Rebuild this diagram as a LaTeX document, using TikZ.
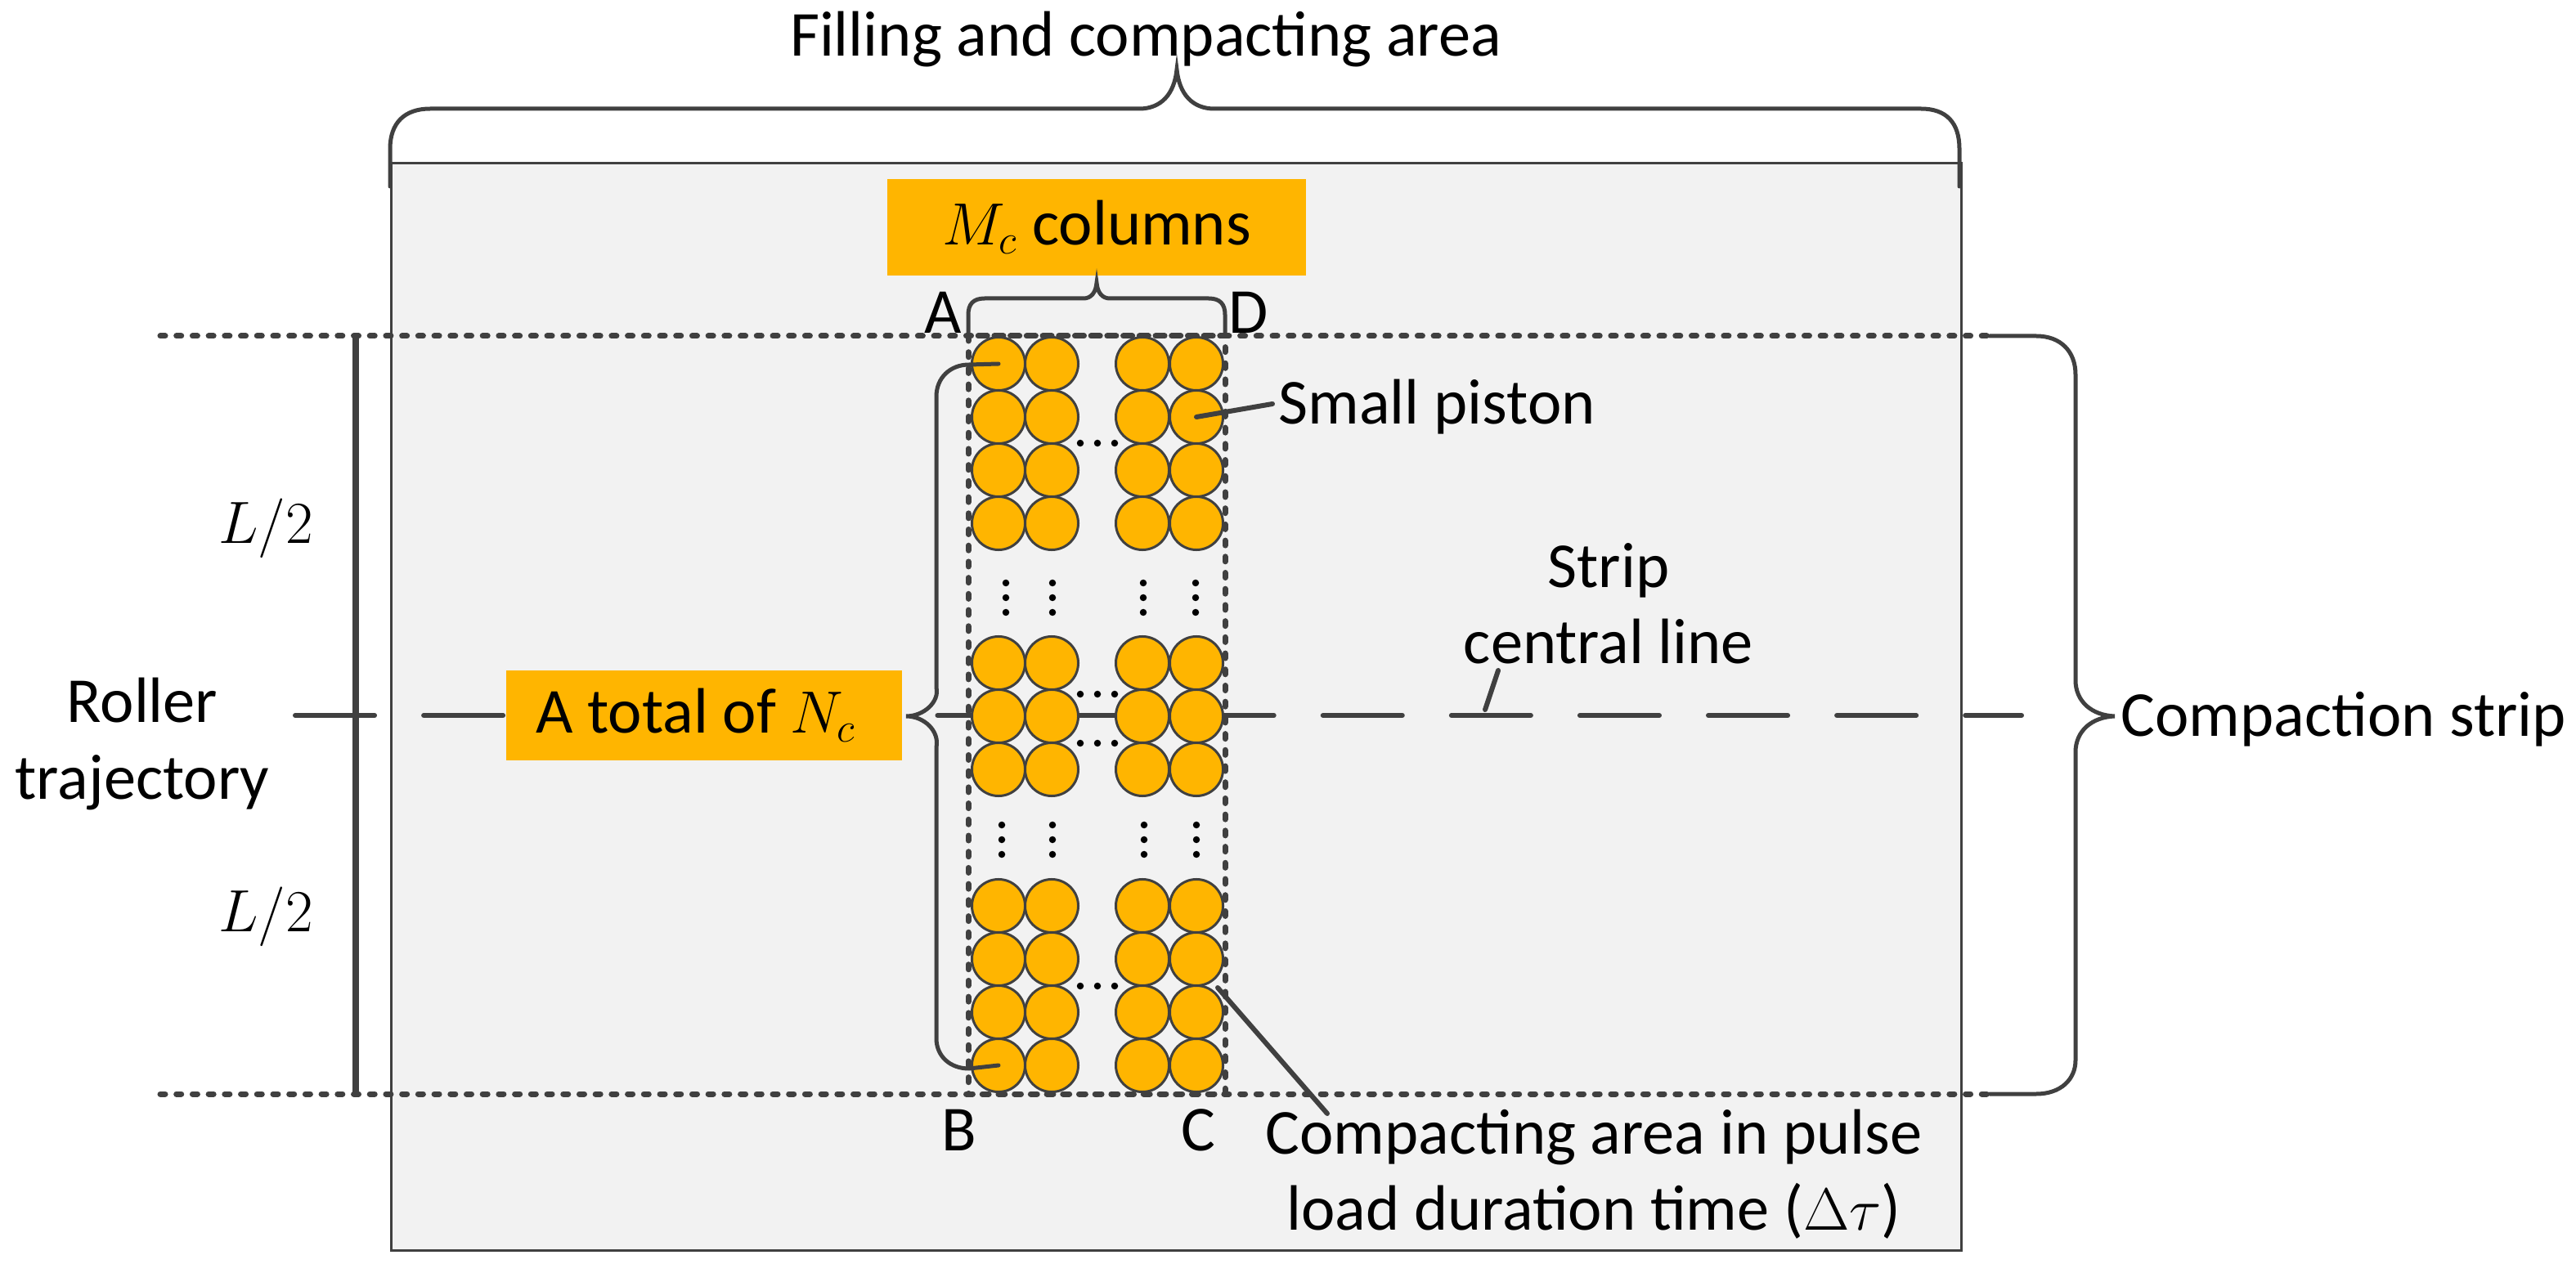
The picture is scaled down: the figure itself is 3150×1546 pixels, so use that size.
\documentclass[tikz,border=0pt]{standalone}
\usepackage{amsmath}
\usepackage{fontspec}
\setmainfont{Carlito}
\usepackage{tikz}
\usetikzlibrary{
		calc,
		positioning
	}
\definecolor{pistonfill}{HTML}{FFB500}
\definecolor{linegray}{HTML}{404040}
\definecolor{panelgray}{HTML}{F2F2F2}
\tikzset{
		>=stealth,
		txt/.style={inner sep=1mm, align=center, font=\fontsize{22.3}{26.5}\selectfont},
		tagbox/.style={txt, fill=pistonfill, minimum height=1.1cm},
		piston/.style={circle, draw=linegray, fill=pistonfill, line width=0.3mm, minimum size=0.65cm, inner sep=0pt},
		solidline/.style={draw=linegray, line width=0.6mm, line cap=round},
		braceline/.style={draw=linegray, line width=0.5mm, line cap=round},
		dotline/.style={draw=linegray, line width=0.7mm, line cap=round, dash pattern=on 0.06cm off 0.137cm},
		longdash/.style={draw=linegray, line width=0.6mm, line cap=round, dash pattern=on 0.97cm off 0.60cm},
		ellipsisdot/.style={circle, fill=black, minimum size=0.085cm, inner sep=0pt}
	}

\begin{document}
\begin{tikzpicture}[x=0.01cm, y=-0.01cm]
    \useasboundingbox (0,0) rectangle (3150,1546);

    % the fill area
    \filldraw[fill=panelgray, draw=linegray, line width=0.3mm] (478,200) rectangle (2398,1529);

    % strip limits and central line
    \coordinate (topl) at (196,411);
    \coordinate (topr) at (2433,411);
    \coordinate (botl) at (196,1338);
    \coordinate (botr) at (2433,1338);
    \coordinate (midl) at (361,875);
    \coordinate (midr) at (2472,875);
    \draw[dotline] (topl) -- (topr);
    \draw[dotline] (botl) -- (botr);
    \draw[longdash] (midl) -- (midr);
    \draw[solidline, line width=0.8mm] (435,411) -- (435,1338);

    % area of one pulse
    \draw[dotline] (1184,411) rectangle (1498,1338);

    % the pistons, rows in three groups
    \foreach \rowname/\y in {1/445,2/510,3/575,4/640,5/811,6/876,7/941,8/1108,9/1173,10/1238,11/1303}
      \foreach \colname/\x in {1/1221,2/1286,3/1397,4/1463}
        \node[piston] (p\rowname-\colname) at (\x,\y) {};

    % the dots between them
    \foreach \y in {542,849,909,1206}
      \foreach \x in {1321,1342,1363}
        \node[ellipsisdot] at (\x,\y) {};
    \foreach \x in {1230,1287,1398,1462}
      \foreach \y in {713,731,749}
        \node[ellipsisdot] at (\x,\y) {};
    \foreach \x in {1225,1287,1399,1463}
      \foreach \y in {1009,1027,1045}
        \node[ellipsisdot] at (\x,\y) {};

    % the boxes
    \node[tagbox, minimum width=5.11cm, minimum height=1.18cm] (mc) at (1341,278) {$M_c$ columns};
    \node[tagbox, minimum width=4.84cm] (nc) at (861,875) {\hspace*{-5.6pt}A total of $N_c$};

    % the texts
    \node[txt] (fill) at (1401,48) {Filling and compacting area};
    \node[txt] (strip) at (2866,880) {Compaction strip};
    \node[txt, anchor=west] (small) at (1553,498) {Small piston};
    \node[txt] (roller) at (174,910) {Roller\\trajectory};
    \node[txt] (lup) at (325,646) {$L/2$};
    \node[txt] (llow) at (325,1121) {$L/2$};
    \node[txt] (central) at (1967,738) {Strip\\central line};
    \node[txt] (area) at (1949,1436) {Compacting area in pulse\\load duration time ($\Delta\tau$)};
    \node[txt] (ca) at (1153,382) {A};
    \node[txt] (cd) at (1527,382) {D};
    \node[txt] (cb) at (1173,1382) {B};
    \node[txt] (cc) at (1465,1382) {C};

    % the leaders
    \coordinate (stripend) at (1816,868);
    \coordinate (stripstart) at (1832,820);
    \coordinate (areastart) at (1489,1208);
    \coordinate (areaend) at (1623,1362);
    \coordinate (smallend) at (1556,494);
    \draw[solidline] (p2-4.center) -- (smallend);
    \draw[solidline] (stripstart) -- (stripend);
    \draw[solidline] (areastart) -- (areaend);

    % the braces
    \draw[braceline] (477,228) -- (477,182) .. controls (477,150) and (495,133) .. (526,133)
        -- (1393,133) .. controls (1420,133) and (1436,115) .. (1439,85)
        .. controls (1442,115) and (1458,133) .. (1485,133)
        -- (2349,133) .. controls (2380,133) and (2396,150) .. (2396,182) -- (2396,228);
    \draw[braceline] (1184,407) -- (1184,385) .. controls (1184,372) and (1190,365) .. (1204,365)
        -- (1325,365) .. controls (1334,365) and (1340,358) .. (1341,346)
        .. controls (1342,358) and (1348,365) .. (1357,365)
        -- (1478,365) .. controls (1492,365) and (1498,372) .. (1498,385) -- (1498,407);
    \draw[braceline] (p1-1.center) -- (1185,446) .. controls (1162,446) and (1145,462) .. (1145,485)
        -- (1145,841) .. controls (1149,858) and (1130,876) .. (1108,876)
        .. controls (1130,876) and (1149,894) .. (1145,914)
        -- (1145,1270) .. controls (1145,1292) and (1162,1307) .. (1185,1307) -- (p11-1.center);
    \draw[braceline] (topr) -- (2490,411) .. controls (2520,411) and (2538,430) .. (2538,458)
        -- (2538,832) .. controls (2538,858) and (2558,875) .. (2586,876)
        .. controls (2558,877) and (2538,894) .. (2538,920)
        -- (2538,1297) .. controls (2538,1320) and (2520,1338) .. (2490,1338) -- (botr);
\end{tikzpicture}
\end{document}
